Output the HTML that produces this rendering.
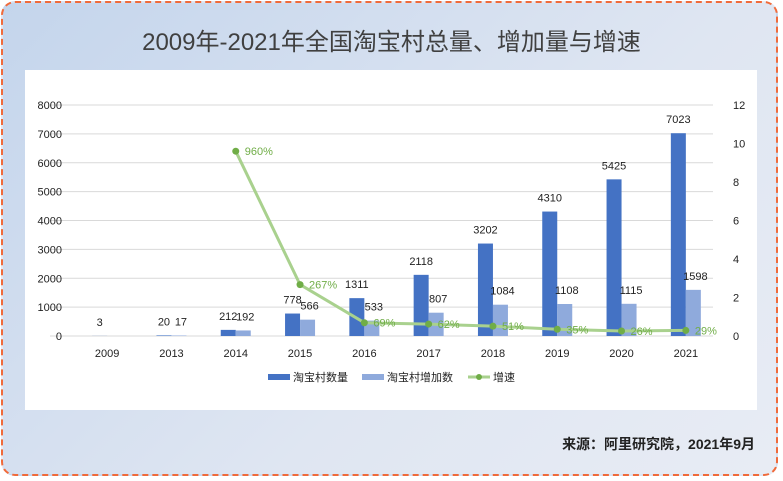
<!DOCTYPE html>
<html><head><meta charset="utf-8"><style>
body{margin:0;width:783px;height:481px;overflow:hidden;font-family:"Liberation Sans","Noto Sans CJK SC",sans-serif}
#frame{position:absolute;left:1px;top:1px;width:777px;height:475px;border:2px dashed #f06a3a;border-radius:14px;background:linear-gradient(135deg,#c4d5ec,#dfe6f2 60%,#e8ecf4);box-sizing:border-box}
#title{position:absolute;left:0;width:783px;top:22px;text-align:center;font-size:24px;color:#404040}
#panel{position:absolute;left:25px;top:70px;width:732px;height:340px;background:#fff}
#src{position:absolute;right:28px;top:434px;font-size:14px;font-weight:bold;color:#222}
</style></head><body>
<div id="frame"></div>
<div id="title">2009年-2021年全国淘宝村总量、增加量与增速</div>
<div id="panel"></div>
<svg id="chart" width="783" height="481" style="position:absolute;left:0;top:0"></svg>
<div id="src">来源：阿里研究院，2021年9月</div>
<script>
const categories=["2009","2013","2014","2015","2016","2017","2018","2019","2020","2021"];
const totals=[3,20,212,778,1311,2118,3202,4310,5425,7023];
const added=[null,17,192,566,533,807,1084,1108,1115,1598];
const growth=[null,null,9.60,2.67,0.69,0.62,0.51,0.35,0.26,0.29];
const leftTicks=[0,1000,2000,3000,4000,5000,6000,7000,8000];
const rightTicks=[0,2,4,6,8,10,12];
const svg=document.getElementById('chart');
const NS='http://www.w3.org/2000/svg';
const x0=75,x1=718,yb=336,yt=105;
const band=(x1-x0)/categories.length;
const cx=i=>x0+band*(i+0.5);
const yL=v=>yb-(v/8000)*(yb-yt);
const yR=v=>yb-(v/12)*(yb-yt);
function mk(tag,attrs,txt){const e=document.createElementNS(NS,tag);for(const k in attrs)e.setAttribute(k,attrs[k]);if(txt!==undefined)e.textContent=txt;svg.appendChild(e);return e;}
leftTicks.forEach(t=>{
 const g=mk('line',{x1:x0-25,x2:x1-5,y1:yL(t),y2:yL(t),stroke:'#d9d9d9','stroke-width':1});
 
 const l=mk('text',{x:62,y:yL(t)+4,'text-anchor':'end','font-size':11,fill:'#222'},t);
 
});
rightTicks.forEach(t=>{
 const l=mk('text',{x:733,y:yR(t)+4,'font-size':11,fill:'#222'},t);
 
});
const bw=15;
categories.forEach((c,i)=>{
 const l=mk('text',{x:cx(i),y:357,'text-anchor':'middle','font-size':11,fill:'#222'},c);
 
 const v=totals[i];
 const r=mk('rect',{x:cx(i)-bw,y:yL(v),width:bw,height:yb-yL(v),fill:'#4472c4'});
 
 const t=mk('text',{x:cx(i)-bw/2,y:yL(v)-10,'text-anchor':'middle','font-size':11,fill:'#222'},v);
 
 if(added[i]!=null){
  const a=added[i];
  const r2=mk('rect',{x:cx(i),y:yL(a),width:bw,height:yb-yL(a),fill:'#8faadc'});
  
  const t2=mk('text',{x:cx(i)+bw/2+2,y:yL(a)-10,'text-anchor':'middle','font-size':11,fill:'#222'},a);
  
 }
});
const pts=[];growth.forEach((g,i)=>{if(g!=null)pts.push([cx(i),yR(g),g]);});
const pl=mk('polyline',{points:pts.map(p=>p[0]+','+p[1]).join(' '),fill:'none',stroke:'#a9d18e','stroke-width':3,'stroke-linejoin':'round'});

pts.forEach(p=>{
 const c=mk('circle',{cx:p[0],cy:p[1],r:3.5,fill:'#70ad47'});
 
 const t=mk('text',{x:p[0]+9,y:p[1]+4,'font-size':11,fill:'#70ad47'},Math.round(p[2]*100)+'%');
 
});
// legend
const lg=[["rect","#4472c4","淘宝村数量",268],["rect","#8faadc","淘宝村增加数",362],["line","#a9d18e","增速",468]];
lg.forEach(d=>{
 if(d[0]==="rect"){const r=mk('rect',{x:d[3],y:374,width:22,height:6,fill:d[1]});}
 else{const l=mk('line',{x1:d[3],x2:d[3]+22,y1:377,y2:377,stroke:d[1],'stroke-width':3});
  const c=mk('circle',{cx:d[3]+11,cy:377,r:3,fill:'#70ad47'});}
 const t=mk('text',{x:d[3]+25,y:381,'font-size':11,fill:'#222'},d[2]);
 
});
</script>
</body></html>
